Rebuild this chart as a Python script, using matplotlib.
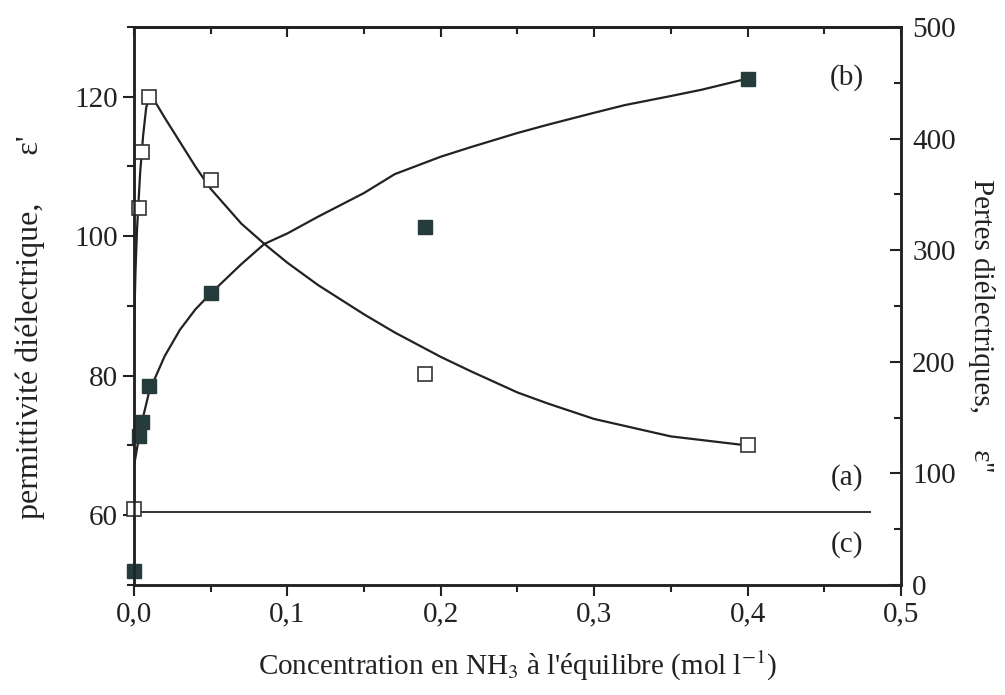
import numpy as np
import matplotlib.pyplot as plt
from matplotlib.ticker import MultipleLocator, FuncFormatter

plt.rcParams['font.family'] = ['Liberation Serif', 'DejaVu Serif']
plt.rcParams['mathtext.fontset'] = 'stix'

# measured points (x in mol/l, y in left-axis units)
conc = [0.0, 0.003, 0.005, 0.01, 0.05, 0.19, 0.4]
eps_open = [60.9, 104.0, 112.1, 120.0, 108.0, 80.2, 70.0]
eps_filled = [52.0, 71.4, 73.4, 78.5, 91.9, 101.3, 122.5]

# curves
curve_a_x = [0.0, 0.001, 0.002, 0.004, 0.006, 0.008, 0.011, 0.02, 0.03, 0.04, 0.05,
             0.07, 0.085, 0.1, 0.12, 0.15, 0.17, 0.2, 0.22, 0.25, 0.27, 0.3,
             0.35, 0.4]
curve_a_y = [86.0, 95.0, 101.0, 109.0, 114.5, 118.5, 120.3, 117.0, 113.5, 110.0, 106.8,
             101.8, 98.9, 96.2, 93.0, 88.8, 86.2, 82.7, 80.6, 77.6, 76.0, 73.8,
             71.3, 70.0]
curve_b_x = [0.0, 0.002, 0.005, 0.01, 0.02, 0.03, 0.04, 0.05, 0.07, 0.085, 0.1,
             0.12, 0.15, 0.17, 0.2, 0.22, 0.25, 0.27, 0.3, 0.32, 0.35, 0.37, 0.4]
curve_b_y = [67.0, 69.6, 73.2, 77.8, 82.8, 86.6, 89.5, 91.8, 96.0, 98.9, 100.4,
             102.8, 106.2, 108.9, 111.4, 112.8, 114.8, 116.0, 117.7, 118.8, 120.1,
             121.0, 122.6]
line_c_x = [0.0, 0.48]
line_c_y = [60.4, 60.4]

fs = 21
ink = '#222222'

fig = plt.figure(figsize=(10.05, 6.95), dpi=100)
ax = fig.add_axes([0.1333, 0.1583, 0.7632, 0.8029])

ax.plot(curve_a_x, curve_a_y, color=ink, lw=1.6)
ax.plot(curve_b_x, curve_b_y, color=ink, lw=1.6)
ax.plot(line_c_x, line_c_y, color='#333333', lw=1.4)

ax.plot(conc, eps_open, 's', ms=9.5, mfc='white', mec='#333333', mew=1.2,
        ls='none', clip_on=False, zorder=5)
ax.plot(conc, eps_filled, 's', ms=9.5, mfc='#263b3b', mec='#263b3b',
        ls='none', clip_on=False, zorder=5)

ax.set_xlim(0, 0.5)
ax.set_ylim(50, 130)
ax.xaxis.set_major_locator(MultipleLocator(0.1))
ax.xaxis.set_minor_locator(MultipleLocator(0.05))
ax.yaxis.set_major_locator(MultipleLocator(20))
ax.yaxis.set_minor_locator(MultipleLocator(10))
ax.xaxis.set_major_formatter(FuncFormatter(lambda v, p: ('%.1f' % v).replace('.', ',')))
ax.tick_params(axis='both', which='major', labelsize=fs, width=1.5, length=8,
               color=ink, labelcolor=ink)
ax.tick_params(axis='both', which='minor', width=1.5, length=5, color=ink)
for sp in ax.spines.values():
    sp.set_linewidth(1.8)
    sp.set_color(ink)

# top axis: ticks pointing inward, no labels
top = ax.secondary_xaxis('top')
top.xaxis.set_major_locator(MultipleLocator(0.1))
top.xaxis.set_minor_locator(MultipleLocator(0.05))
top.tick_params(which='major', direction='in', length=7, width=1.5, color=ink,
                labeltop=False)
top.tick_params(which='minor', direction='in', length=5, width=1.5, color=ink)
top.spines['top'].set_linewidth(1.8)

ax2 = ax.twinx()
ax2.set_ylim(0, 500)
ax2.yaxis.set_major_locator(MultipleLocator(100))
ax2.yaxis.set_minor_locator(MultipleLocator(50))
ax2.tick_params(axis='y', which='major', direction='in', labelsize=fs, width=1.5,
                length=8, color=ink, labelcolor=ink, pad=8)
ax2.tick_params(axis='y', which='minor', direction='in', width=1.5, length=5,
                color=ink)
for sp in ax2.spines.values():
    sp.set_linewidth(1.8)
    sp.set_color(ink)

ax.set_xlabel("Concentration en NH$_3$ à l'équilibre (mol l$^{-1}$)", fontsize=fs,
              color=ink, labelpad=16)
fig.text(0.030, 0.529, "permittivité diélectrique,      ε'", fontsize=23, color=ink,
         rotation=90, ha='center', va='center')
fig.text(0.977, 0.532, "Pertes diélectriques,     ε''", fontsize=fs, color=ink,
         rotation=-90, ha='center', va='center')

ax.text(0.465, 122.7, '(b)', fontsize=fs, color=ink, ha='center', va='center')
ax.text(0.465, 65.4, '(a)', fontsize=fs, color=ink, ha='center', va='center')
ax.text(0.465, 55.8, '(c)', fontsize=fs, color=ink, ha='center', va='center')

fig.savefig('out.png', dpi=100)
